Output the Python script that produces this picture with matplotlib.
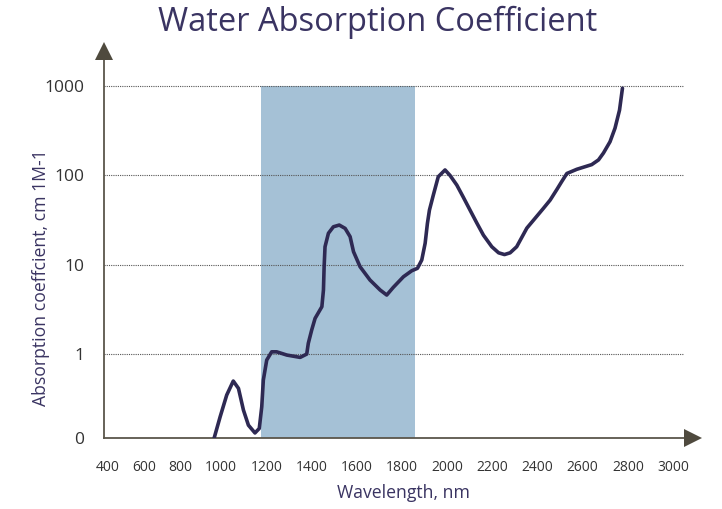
import numpy as np
import matplotlib.pyplot as plt

plt.rcParams['font.family'] = ['Open Sans', 'DejaVu Sans']

# curve (wavelength nm, absorption coefficient)
wavelength = [969, 996, 1025, 1054, 1077, 1099, 1121, 1150, 1169, 1180, 1187,
              1202, 1224, 1246, 1291, 1350, 1379, 1386, 1401, 1416, 1446,
              1453, 1456, 1460, 1475, 1497, 1523, 1549, 1571, 1586, 1615,
              1659, 1704, 1733, 1762, 1807, 1844, 1869, 1888, 1903, 1913,
              1922, 1939, 1961, 1991, 2013, 2043, 2072, 2102, 2131, 2161,
              2198, 2228, 2254, 2279, 2308, 2353, 2389, 2426, 2456, 2485,
              2507, 2530, 2574, 2640, 2670, 2692, 2721, 2743, 2763, 2776]
absorption = [0.114, 0.199, 0.348, 0.499, 0.413, 0.236, 0.16, 0.131, 0.147,
              0.257, 0.512, 0.857, 1.06, 1.06, 0.975, 0.918, 1.0, 1.32, 1.86,
              2.51, 3.39, 5.21, 9.5, 15.9, 22.5, 26.6, 27.8, 25.5, 20.6, 14.0,
              9.5, 6.74, 5.21, 4.58, 5.58, 7.34, 8.57, 9.12, 11.3, 17.4, 29,
              40.9, 60, 96.6, 115, 100, 78, 56.9, 40.7, 29.5, 21.4, 15.9,
              13.6, 13.0, 13.6, 15.9, 25.7, 33, 42.7, 52.9, 69, 85, 105, 117,
              132, 149, 178, 238, 337, 537, 945]

band_start, band_end = 1175, 1860

xtick_pos = [500, 660, 820, 1000, 1200, 1400, 1600, 1800, 2000, 2200, 2400,
             2600, 2800, 3000]
xtick_labels = ['400', '600', '800', '1000', '1200', '1400', '1600', '1800',
                '2000', '2200', '2400', '2600', '2800', '3000']
ytick_pos = [0.115, 1, 10, 100, 1000]
ytick_labels = ['0', '1', '10', '100', '1000']

navy = '#2e2953'
axis_col = '#5b564b'

fig = plt.figure(figsize=(7.22, 5.09), dpi=100)
ax = fig.add_axes([104 / 722, 1 - 438 / 509, 598 / 722, 393 / 509])
ax.set_yscale('log')
ax.set_xlim(482, 3128)
ax.set_ylim(0.115, 2880)

ax.fill_between([band_start, band_end], 0.115, 1000, color='#a5c1d6',
                lw=0, zorder=1)

for g in [1, 10, 100, 1000]:
    ax.axhline(g, xmin=0, xmax=0.97, ls=(0, (1, 1)), color='#555555',
               lw=0.8, zorder=2)

ax.plot(wavelength, absorption, color=navy, lw=2.6, solid_joinstyle='round',
        solid_capstyle='round', zorder=4)

for s in ax.spines.values():
    s.set_visible(False)

# axes drawn as arrows
ax.plot([0, 0], [0, 0.97], transform=ax.transAxes, color=axis_col, lw=1.3,
        clip_on=False, zorder=3)
ax.plot([0, 0.97], [0, 0], transform=ax.transAxes, color=axis_col, lw=1.3,
        clip_on=False, zorder=3)
ax.plot(0, 0.985, marker='^', ms=13, color='#4f4a3e', transform=ax.transAxes,
        clip_on=False, zorder=3, markeredgewidth=0)
ax.plot(0.985, 0, marker='>', ms=13, color='#4f4a3e', transform=ax.transAxes,
        clip_on=False, zorder=3, markeredgewidth=0)

ax.set_xticks(xtick_pos)
ax.set_xticklabels(xtick_labels)
ax.set_yticks(ytick_pos)
ax.set_yticklabels(ytick_labels)
ax.yaxis.set_minor_locator(plt.NullLocator())
ax.tick_params(axis='both', length=0, colors='#333333')
ax.tick_params(axis='x', labelsize=10, pad=16)
ax.tick_params(axis='y', labelsize=12.5, pad=14)

ax.set_xlabel('Wavelength, nm', fontsize=12.7, color='#3a3462', labelpad=6)
ax.set_ylabel('Absorption coeffcient, cm 1M-1', fontsize=12.7,
              color='#3a3462')
ax.yaxis.set_label_coords(-0.09, 0.407)

fig.text(378 / 722, 1 - 22 / 509, 'Water Absorption Coefficient',
         ha='center', va='center', fontsize=23.5, color='#3a3462')

fig.savefig('out.png', dpi=100)
